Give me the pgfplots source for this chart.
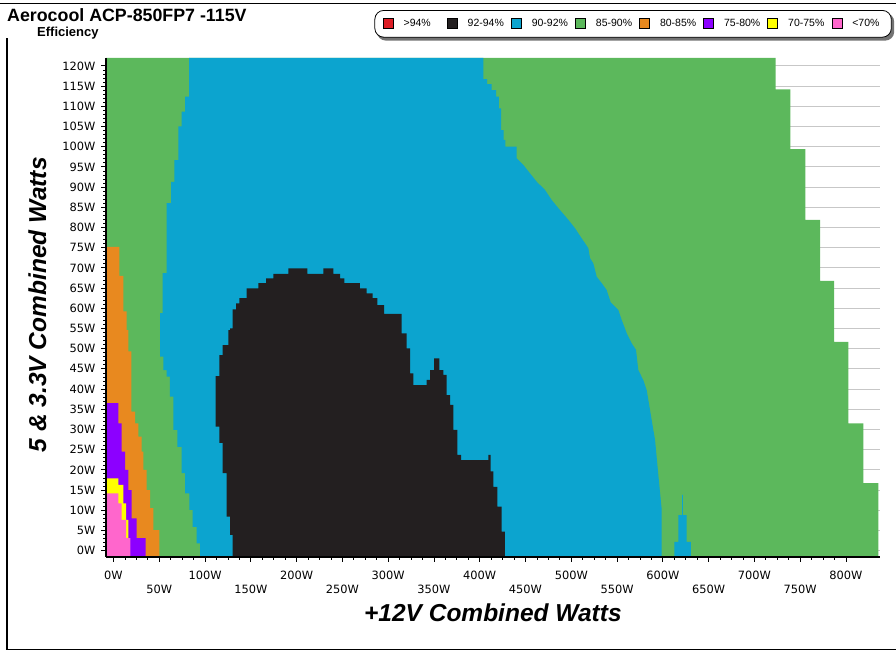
\documentclass[border=0pt]{standalone}
\usepackage{fontspec}
\setmainfont{Liberation Sans}
\newfontfamily\dejavu{DejaVu Sans}
\usepackage{pgfplots}
\pgfplotsset{compat=1.18}
\usetikzlibrary{backgrounds}

\definecolor{cgreen}{RGB}{92,184,92}
\definecolor{cblue}{RGB}{12,164,207}
\definecolor{cblack}{RGB}{35,31,32}
\definecolor{corange}{RGB}{232,137,31}
\definecolor{cpurple}{RGB}{140,0,255}
\definecolor{cyellow}{RGB}{255,255,0}
\definecolor{cpink}{RGB}{255,102,204}
\definecolor{cred}{RGB}{221,30,38}

\begin{document}
\begin{tikzpicture}
\path[use as bounding box] (0pt,0pt) rectangle (896pt,-651pt);
\draw[line width=1.2pt] (0pt,-3.5pt) -- (896pt,-3.5pt);
\draw[line width=1.2pt] (7pt,-38pt) -- (7pt,-649.5pt) -- (896pt,-649.5pt);
\node[anchor=base west, inner sep=0pt, font=\bfseries\fontsize{17.8}{20}\selectfont] at (7pt,-21.7pt) {Aerocool ACP-850FP7 -115V};
\node[anchor=base west, inner sep=0pt, font=\bfseries\fontsize{13}{15}\selectfont] at (37pt,-36.7pt) {Efficiency};
\begin{axis}[
  at={(106pt,-556.7pt)}, anchor=south west,
  scale only axis, width=773.8pt, height=498.9pt,
  xmin=-8.2, xmax=837, ymin=-1.5, ymax=122,
  axis x line=bottom, axis y line=left,
  axis line style={-, line width=1.6pt, black},
  axis on top,
  tick align=outside,
  major tick length=5pt, minor tick length=3pt,
  every tick/.style={black, line width=0.8pt},
  xtick={0,100,...,800},
  xticklabels={0W,100W,200W,300W,400W,500W,600W,700W,800W},
  extra x ticks={50,150,...,750},
  extra x tick labels={50W,150W,250W,350W,450W,550W,650W,750W},
  extra x tick style={xticklabel style={yshift=-14pt}},
  minor x tick num=7,
  ytick={0,5,...,120},
  yticklabels={0W,5W,10W,15W,20W,25W,30W,35W,40W,45W,50W,55W,60W,65W,70W,75W,80W,85W,90W,95W,100W,105W,110W,115W,120W},
  minor y tick num=4,
  tick label style={font=\dejavu\fontsize{11.4}{13}\selectfont},
  xticklabel style={yshift=-6pt},
  yticklabel style={xshift=-2pt},
  xlabel={+12V Combined Watts},
  ylabel={5 \& 3.3V Combined Watts},
  xlabel style={at={(axis description cs:0.5,-0.129)}, anchor=base, font=\bfseries\itshape\fontsize{24.5}{28}\selectfont},
  ylabel style={at={(axis description cs:-0.0775,0.505)}, anchor=base, font=\bfseries\itshape\fontsize{24.5}{28}\selectfont},
  legend columns=8,
  legend image code/.code={\fill[sharp corners] (0pt,-5pt) rectangle (10pt,5pt);},
  legend style={name=leg, at={(axis description cs:1.0154,1.0958)}, anchor=north east,
    draw=black, line width=0.8pt, fill=white, rounded corners=9pt,
    inner xsep=8pt, inner ysep=8pt,
    font=\fontsize{10.5}{12}\selectfont,
    nodes={inner sep=0pt},
    cells={anchor=west},
    /tikz/every odd column/.append style={column sep=10pt}},
]
% grid lines (behind the data)
\pgfplotsinvokeforeach{0,5,...,120}{\draw[black!22, line width=1pt] (axis cs:-8.2,#1) -- (axis cs:837,#1);}

% 85-90% (green): everything up to the right staircase edge
\addplot[fill=cgreen, draw=none, forget plot] coordinates {
(-8.2,-1.5) (835.4,-1.5) (835.4,16.7) (819,16.7) (819,31.5) (802.6,31.5) (802.6,51.7)
(787,51.7) (787,66.8) (771.7,66.8) (771.7,81.9) (755.6,81.9) (755.6,99.4) (739.3,99.4)
(739.3,114.2) (723.3,114.2) (723.3,122) (-8.2,122)};

% 90-92% (blue)
\addplot[fill=cblue, draw=none, forget plot] coordinates {
(94.5,-1.5) (94.5,1.8) (90.9,1.8) (90.9,5.9) (86.5,5.9) (86.5,10.1) (82.8,10.1) (82.8,14.2)
(78.1,14.2) (78.1,19.2) (74.5,19.2) (74.5,25.7) (69.7,25.7) (69.7,29.9) (65.3,29.9) (65.3,38.1)
(61.7,38.1) (61.7,43.1) (58.1,43.1) (58.1,44.7) (54.4,44.7) (54.4,48.0) (50.8,48.0) (50.8,58.8)
(53.7,58.8) (53.7,68.7) (58.1,68.7) (58.1,86.0) (62.8,86.0) (62.8,91.3) (66.4,91.3) (66.4,96.7)
(70.8,96.7) (70.8,105.0) (74.5,105.0) (74.5,108.7) (78.1,108.7) (78.1,112.4) (82.5,112.4) (82.5,122)
(403.9,122) (403.9,116.7) (408,116.7) (408,115.5) (413,115.5) (413,114.0) (418,114.0) (418,112.4)
(421,112.4) (421,109.5) (423.5,109.5) (423.5,104.1) (426,104.1) (426,101.7) (428,101.7) (428,100.0)
(440.4,100.0) (440.4,97.1) (447.6,95.5) (454.9,93.4) (462.3,91.3) (471.3,89.3) (478.6,86.8)
(487.7,84.3) (496.8,81.9) (504.1,79.8) (511.4,77.3) (518.6,74.9) (520.5,72.4) (524.1,71.1)
(527.8,67.8) (533.3,66.2) (538.7,64.5) (543,61.5) (551.4,59.6) (555.1,57.1) (560.6,53.8)
(566,51.3) (570.7,49.7) (573.2,44.7) (578.7,42.2) (582.4,39.7) (586,34.8) (591.5,27.4)
(595.1,18.7) (598.8,10.1) (598.8,-1.5)};

% blue island near 620W
\addplot[fill=cblue, draw=none, forget plot] coordinates {
(612.6,-1.5) (630.5,-1.5) (630.5,2.2) (626.1,2.2) (626.1,8.8) (622,8.8) (622,13.8) (621,13.8)
(621,8.8) (617,8.8) (617,2.2) (612.6,2.2)};

% 92-94% (black)
\addplot[fill=cblack, draw=none, forget plot] coordinates {
(130.2,-1.5) (130.2,3.9) (127.3,3.9) (127.3,8.4) (123.6,8.4) (123.6,19.2) (119.2,19.2) (119.2,26.7)
(115.6,26.7) (115.6,30.7) (111.6,30.7) (111.6,43.2) (115.6,43.2) (115.6,48.4) (119.2,48.4)
(119.2,50.9) (125.4,50.9) (125.4,54.6) (127.3,54.6) (127.3,55.0) (130.2,55.0) (130.2,59.7)
(133.8,59.7) (133.8,61.2) (137.4,61.2) (137.4,62.5) (145.5,62.5) (145.5,64.9) (158.2,64.9)
(158.2,66.2) (166.6,66.2) (166.6,67.4) (174.6,67.4) (174.6,68.5) (191.0,68.5) (191.0,69.9)
(211.7,69.9) (211.7,68.5) (229.2,68.5) (229.2,69.9) (240.1,69.9) (240.1,68.5) (247.4,68.5)
(247.4,67.4) (252.1,67.4) (252.1,66.2) (269.2,66.2) (269.2,64.9) (276.5,64.9) (276.5,63.7)
(283.1,63.7) (283.1,62.5) (288.2,62.5) (288.2,60.8) (295.5,60.8) (295.5,58.6) (314.8,58.6)
(314.8,53.8) (320.2,53.8) (320.2,50.1) (323.9,50.1) (323.9,43.9) (327.5,43.9) (327.5,41.0)
(342.1,41.0) (342.1,42.3) (345.7,42.3) (345.7,44.7) (350.1,44.7) (350.1,47.6) (355.9,47.6)
(355.9,44.7) (360.3,44.7) (360.3,43.5) (363.9,43.5) (363.9,38.5) (367.6,38.5) (367.6,36.1)
(371.2,36.1) (371.2,29.9) (375.6,29.9) (375.6,23.7) (379.6,23.7) (379.6,22.4) (409.4,22.4)
(409.4,23.7) (412,23.7) (412,19.6) (414.9,19.6) (414.9,15.8) (419.3,15.8) (419.3,10.9)
(424,10.9) (424,4.7) (427.6,4.7) (427.6,-1.5)};

% 80-85% (orange)
\addplot[fill=corange, draw=none, forget plot] coordinates {
(-8.2,-1.5) (50.0,-1.5) (50.0,5.1) (43.5,5.1) (43.5,10.5) (39.9,10.5) (39.9,15.0) (36.3,15.0)
(36.3,20.0) (32.6,20.0) (32.6,24.5) (30.8,24.5) (30.8,28.2) (27.1,28.2) (27.1,31.5) (23.5,31.5)
(23.5,34.4) (19.5,34.4) (19.5,49.3) (16.2,49.3) (16.2,54.6) (14.4,54.6) (14.4,59.2) (10.7,59.2)
(10.7,68.0) (6.3,68.0) (6.3,75.2) (-8.2,75.2)};

% 75-80% (purple)
\addplot[fill=cpurple, draw=none, forget plot] coordinates {
(-8.2,-1.5) (35,-1.5) (35,3.1) (25.3,3.1) (25.3,8.0) (19.9,8.0) (19.9,15.0) (16.2,15.0)
(16.2,20.0) (12.6,20.0) (12.6,24.5) (9.0,24.5) (9.0,31.5) (5.2,31.5) (5.2,36.5) (-8.2,36.5)};

% 70-75% (yellow)
\addplot[fill=cyellow, draw=none, forget plot] coordinates {
(-8.2,3.1) (16.2,3.1) (16.2,7.6) (13.7,7.6) (13.7,11.7) (10.7,11.7) (10.7,16.3) (5.2,16.3)
(5.2,17.9) (-8.2,17.9)};

% <70% (pink)
\addplot[fill=cpink, draw=none, forget plot] coordinates {
(-8.2,-1.5) (18.5,-1.5) (18.5,3.1) (13.7,3.1) (13.7,7.6) (9.0,7.6) (9.0,11.7) (5.2,11.7)
(5.2,14.2) (-8.2,14.2)};

\addlegendimage{fill=cred}
\addlegendentry{\makebox[43.3pt][l]{>94\%}}
\addlegendimage{fill=cblack}
\addlegendentry{\makebox[43.3pt][l]{92-94\%}}
\addlegendimage{fill=cblue}
\addlegendentry{\makebox[43.3pt][l]{90-92\%}}
\addlegendimage{fill=cgreen}
\addlegendentry{\makebox[43.3pt][l]{85-90\%}}
\addlegendimage{fill=corange}
\addlegendentry{\makebox[43.3pt][l]{80-85\%}}
\addlegendimage{fill=cpurple}
\addlegendentry{\makebox[43.3pt][l]{75-80\%}}
\addlegendimage{fill=cyellow}
\addlegendentry{\makebox[43.3pt][l]{70-75\%}}
\addlegendimage{fill=cpink}
\addlegendentry{\makebox[31pt][l]{<70\%}}
\end{axis}
\begin{pgfonlayer}{background}
\fill[black!55, rounded corners=9pt] ([xshift=2.5pt,yshift=-3pt]leg.south west) rectangle ([xshift=2.5pt,yshift=-3pt]leg.north east);
\end{pgfonlayer}
\end{tikzpicture}
\end{document}
